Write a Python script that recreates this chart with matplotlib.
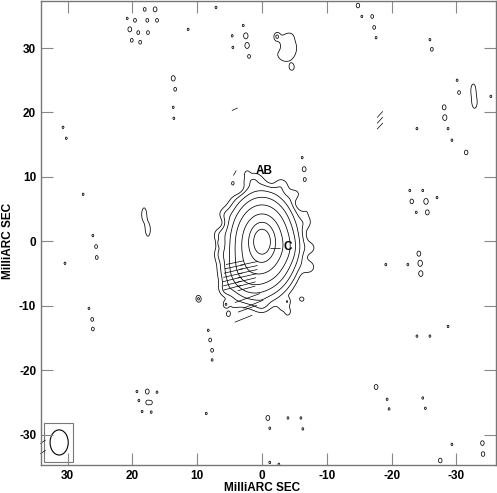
import numpy as np
import matplotlib
matplotlib.use("Agg")
import matplotlib.pyplot as plt
from matplotlib.patches import Ellipse, Rectangle
from matplotlib.collections import LineCollection

plt.rcParams["font.family"] = ["Liberation Sans", "DejaVu Sans"]
plt.rcParams["axes.unicode_minus"] = False

# main source: gaussian components (x mas, y mas, amp, sigma_x, sigma_y)
SRC_X = [0.0, 0.0, 2.8, -3.8, 1.5]
SRC_Y = [0.0, -0.3, -4.8, -1.0, -7.5]
SRC_AMP = [1.0, 0.45, 0.05, 0.02, 0.01]
SRC_SX = [0.9, 2.3, 1.8, 1.2, 1.6]
SRC_SY = [1.35, 3.35, 2.0, 1.5, 1.6]

# weak knots on the edge of the halo (amp as fraction of peak)
KNOT_X = [5.8, 6.3, 5.6, -6.8, -7.3, -6.2, 2.0, -3.0, -5.2, 0.0, 3.5, -3.5, 4.5,
          -6.0, 1.0, -1.5, -7.5, 6.5, 6.3, -7.0]
KNOT_Y = [4.0, -2.0, -7.5, 3.0, -4.0, -9.0, 9.5, 8.8, 7.2, -10.0, 8.0, -10.3, -9.8,
          6.0, 9.8, 9.0, -1.0, 1.0, 3.0, 5.0]
KNOT_AMP = [0.004, 0.004, 0.005, 0.004, 0.005, 0.004, 0.003, 0.004, 0.004, 0.004,
            -0.003, 0.004, 0.003, -0.003, 0.003, -0.002, 0.004, 0.004, -0.003, 0.003]

# extended noise patches: x, y, strength (x lowest level), sigma_x, sigma_y
PATCH_X = [-3.7, -2.4, -4.4, -32.6, -32.8, 18.2, 17.6]
PATCH_Y = [30.0, 30.2, 31.9, 23.5, 21.5, 4.2, 1.8]
PATCH_STR = [1.8, -0.7, 0.3, 1.5, 1.5, 1.5, 1.5]
PATCH_SX = [1.5, 0.6, 0.5, 0.4, 0.4, 0.4, 0.4]
PATCH_SY = [1.9, 0.6, 0.5, 1.0, 0.9, 1.1, 1.1]

# noise peaks: position and strength relative to lowest contour
NOISE_X = [18.1, 16.5, 20.8, 19.6, 17.7, 16.2, 20.4, 19.1, 17.6, 20.1, 18.8,
           7.1, 11.4, 2.9, 4.6, 4.5, 2.5, 2.3, 2.0, -2.3, -4.6,
           -14.8, -15.4, -17.0, -17.3, -17.6, -25.9, -26.2, -30.1, -30.4,
           -35.3, 13.7, 13.4, 13.7, 13.6, 30.7, 30.2,
           -28.1, -28.2, -23.9, -28.7, -29.3, -31.5,
           -22.8, -24.8, -23.1, -25.3, -27.0, -23.8, -25.5,
           -24.2, -24.4, -24.5, -19.1, -22.5,
           27.6, 26.1, 25.6, 25.5, 30.4, 6.5, 9.7,
           26.7, 26.2, 26.1, 8.3, 8.0, 7.7, 7.7,
           19.3, 17.7, 16.2, 19.0, 17.7, 17.1, 18.5, 17.1, 8.6,
           -0.9, -4.0, -6.0, -1.2, -6.3, -1.2, -2.6,
           -28.7, -23.9, -25.9, -17.6, -19.3, -19.6, -24.8, -25.2,
           -29.3, -34.0, -34.1, -27.5,
           5.6, 5.2, -4.0, -3.9, 2.3, -6.5, -6.6, -6.2, 4.5, 9.9]
NOISE_Y = [36.0, 36.0, 34.6, 34.3, 34.3, 34.3, 32.9, 32.4, 32.4, 31.2, 30.9,
           36.3, 32.9, 33.5, 31.9, 30.1, 31.9, 30.4, 28.7, 31.8, 27.0,
           36.6, 34.9, 34.9, 33.2, 31.6, 31.3, 29.8, 25.0, 23.1,
           22.5, 25.3, 23.6, 20.8, 19.1, 17.7, 16.0,
           20.8, 19.2, 17.5, 17.5, 15.7, 13.8,
           7.9, 7.9, 6.2, 6.2, 6.8, 4.5, 4.5,
           -1.9, -3.4, -5.0, -3.6, -3.6,
           7.3, 0.9, -0.8, -2.5, -3.4, -0.3, -9.0,
           -10.4, -12.1, -13.6, -13.8, -15.3, -16.9, -18.4,
           -23.3, -23.3, -23.4, -24.7, -25.0, -25.0, -26.4, -26.5, -26.7,
           -27.4, -27.4, -27.4, -29.0, -29.1, -34.3, -34.6,
           -13.2, -14.7, -14.7, -22.6, -24.5, -26.0, -24.3, -25.9,
           -31.5, -31.3, -33.0, -34.0,
           -9.8, -11.3, -11.0, -9.3, 10.5, 11.2, 9.6, 13.0, 9.0, -8.8]
NOISE_STR = [1.3, 1.6, 1.12, 1.3, 1.3, 1.3, 1.6, 1.3, 1.3, 1.3, 1.3,
             1.12, 1.12, 1.12, 1.12, 1.12, 1.9, 1.9, 1.3, 1.6, 1.3,
             1.5, 1.12, 1.3, 1.3, 1.12, 1.12, 1.3, 1.12, 1.3,
             1.12, 1.7, 1.3, 1.12, 1.12, 1.12, 1.12,
             1.6, 1.8, 1.12, 1.12, 1.12, 1.5,
             1.12, 1.12, 1.5, 1.9, 1.12, 1.12, 1.6,
             1.6, 1.95, 1.8, 1.12, 1.12,
             1.12, 1.12, 1.3, 1.3, 1.12, 1.12, 1.3,
             1.12, 1.3, 1.3, 1.12, 1.3, 1.3, 1.12,
             1.12, 1.6, 1.12, 1.12, 1.3, 1.12, 1.12, 1.12, 1.12,
             1.6, 1.12, 1.12, 1.12, 1.12, 1.12, 1.12,
             1.12, 1.12, 1.12, 1.6, 1.12, 1.12, 1.12, 1.12,
             1.12, 1.5, 1.5, 1.5,
             1.6, 1.4, 1.12, 1.12, 1.12, 1.6, 1.3, 1.12, 1.12, 1.12]

# contour levels (fraction of peak)
LEVELS = [0.004, 0.008, 0.016, 0.032, 0.064, 0.128, 0.256, 0.512]

# polarisation vectors: centre x, centre y, length (mas), angle on plot (deg)
VEC_X = [4.2, 2.0, 4.3, 2.1, 4.4, 2.2, 4.5, 2.3, 4.6, 2.4, 4.6, 2.4, 4.6, 2.4,
         2.25, 2.25, 2.85, 1.35, -2.0, 4.2, 4.2, -18.2, -18.2, -18.2, 33.8, 33.8]
VEC_Y = [-3.3, -3.4, -3.95, -4.05, -4.6, -4.7, -5.25, -5.35, -5.9, -6.0,
         -6.55, -6.65, -7.2, -7.3,
         -8.8, -10.45, -12.0, -9.75, -1.0, 10.6, 20.5, 19.7, 18.8, 17.9,
         -31.1, -32.7]
VEC_LEN = [2.8, 2.8, 2.9, 2.9, 3.0, 3.0, 3.0, 3.0, 3.0, 3.0, 2.9, 2.9, 2.8, 2.8,
           4.1, 3.1, 2.9, 3.3, 1.6, 0.9, 1.0, 1.3, 1.3, 1.3, 1.0, 1.0]
VEC_ANG = [12, 12, 12, 12, 13, 13, 13, 13, 14, 14, 15, 15, 15, 15,
           20, 20, 22, 22, 0, 60, 25, 48, 48, 48, 35, 35]

BEAM_X, BEAM_Y, BEAM_W, BEAM_H = 31.3, -31.2, 2.8, 3.9
BOX = (29.2, 33.6, -34.3, -28.2)

XLIM = (34.1, -36.1)
YLIM = (-34.7, 37.3)
STEP = 0.05


def gauss(X, Y, cx, cy, sx, sy):
    return np.exp(-0.5 * (((X - cx) / sx) ** 2 + ((Y - cy) / sy) ** 2))


# brightness grid
x = np.arange(XLIM[1], XLIM[0] + STEP, STEP)
y = np.arange(YLIM[0], YLIM[1] + STEP, STEP)
X, Y = np.meshgrid(x, y)
Z = np.zeros_like(X)
for cx, cy, a, sx, sy in zip(SRC_X, SRC_Y, SRC_AMP, SRC_SX, SRC_SY):
    Z += a * gauss(X, Y, cx, cy, sx, sy)
peak = Z.max()
for cx, cy, a in zip(KNOT_X, KNOT_Y, KNOT_AMP):
    Z += a * peak * gauss(X, Y, cx, cy, 0.8, 0.8)
base = LEVELS[0] * peak


def add_local(cx, cy, amp, sx, sy):
    i0 = max(0, int((cy - 6 - YLIM[0]) / STEP))
    i1 = int((cy + 6 - YLIM[0]) / STEP)
    j0 = max(0, int((cx - 6 - XLIM[1]) / STEP))
    j1 = int((cx + 6 - XLIM[1]) / STEP)
    Z[i0:i1, j0:j1] += amp * gauss(X[i0:i1, j0:j1], Y[i0:i1, j0:j1], cx, cy, sx, sy)


for cx, cy, s, sx, sy in zip(PATCH_X, PATCH_Y, PATCH_STR, PATCH_SX, PATCH_SY):
    add_local(cx, cy, s * base, sx, sy)
for cx, cy, s in zip(NOISE_X, NOISE_Y, NOISE_STR):
    add_local(cx, cy, s * base, 0.3, 0.4)

fig = plt.figure(figsize=(4.97, 4.93), dpi=100)
ax = fig.add_axes([41 / 497, 28 / 493, 455 / 497, 464 / 493])

ax.contour(X, Y, Z, levels=[l * peak for l in LEVELS], colors="black",
           linewidths=0.55, linestyles="solid")

segs = []
for cx, cy, ln, ang in zip(VEC_X, VEC_Y, VEC_LEN, VEC_ANG):
    dx = -0.5 * ln * np.cos(np.radians(ang))
    dy = 0.5 * ln * np.sin(np.radians(ang))
    segs.append([(cx - dx, cy - dy), (cx + dx, cy + dy)])
ax.add_collection(LineCollection(segs, colors="black", linewidths=0.5, clip_on=False))

ax.add_patch(Rectangle((BOX[0], BOX[2]), BOX[1] - BOX[0], BOX[3] - BOX[2],
                       fill=False, edgecolor="#777777", linewidth=0.8))
ax.add_patch(Ellipse((BEAM_X, BEAM_Y), BEAM_W, BEAM_H, fill=False,
                     edgecolor="black", linewidth=0.8))

ax.text(-0.3, 10.85, "AB", fontsize=8.5, fontweight="bold", ha="center", va="center")
ax.text(-4.0, -0.8, "C", fontsize=8.5, fontweight="bold", ha="center", va="center")

ax.set_xlim(*XLIM)
ax.set_ylim(*YLIM)
ticks = [30, 20, 10, 0, -10, -20, -30]
ax.set_xticks(ticks)
ax.set_yticks(ticks)
ax.tick_params(direction="in", length=8.5, width=0.8, color="#888888",
               top=True, right=True, labelsize=8.5, pad=3.5)
for lab in ax.get_xticklabels() + ax.get_yticklabels():
    lab.set_fontweight("bold")
for sp in ax.spines.values():
    sp.set_color("#777777")
    sp.set_linewidth(1.0)

fig.text(262 / 497, 1 - 488 / 493, "MilliARC SEC", fontsize=8.5, fontweight="bold",
         ha="center", va="center")
fig.text(8 / 497, 1 - 241 / 493, "MilliARC SEC", fontsize=8.5, fontweight="bold",
         ha="center", va="center", rotation=90)

fig.savefig("out.png", dpi=100)
